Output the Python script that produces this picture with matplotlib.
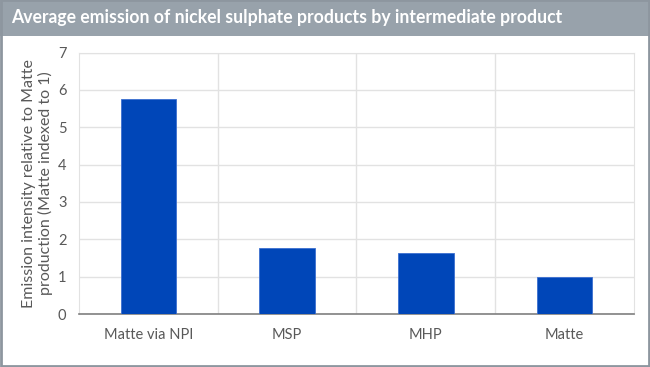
import matplotlib.pyplot as plt
from matplotlib.patches import Rectangle

categories = ["Matte via NPI", "MSP", "MHP", "Matte"]
values = [5.75, 1.78, 1.63, 1.0]
y_ticks = [0, 1, 2, 3, 4, 5, 6, 7]

title = "Average emission of nickel sulphate products by intermediate product"
y_label = "Emission intensity relative to Matte\nproduction (Matte indexed to 1)"

plt.rcParams['font.family'] = ['Lato', 'DejaVu Sans']

fig = plt.figure(figsize=(6.5, 3.67), dpi=100)

# header band and frame
fig.patches.append(Rectangle((0, 1 - 36 / 367), 1, 36 / 367, transform=fig.transFigure,
                             facecolor="#98a2ab", edgecolor="none", zorder=0))
fig.patches.append(Rectangle((0.0015, 0.003), 0.997, 0.997, transform=fig.transFigure,
                             facecolor="none", edgecolor="#8d969f", linewidth=2, zorder=1))
fig.text(0.017, 1 - 18 / 367, title, color="white", fontsize=12.7, fontweight="bold",
         va="center", ha="left")

ax = fig.add_axes([79 / 650, 53 / 367, 555 / 650, 261.5 / 367])
x = range(len(categories))
ax.bar(x, values, width=0.4, color="#0046b8", edgecolor="#3c6fd0", linewidth=0.6, zorder=3)

ax.set_xlim(-0.5, len(categories) - 0.5)
ax.set_ylim(0, 7)
ax.set_yticks(y_ticks)
ax.set_xticks(list(x))
ax.set_xticklabels(categories)
ax.set_xticks([0.5, 1.5, 2.5], minor=True)
ax.grid(axis="y", which="major", color="#e2e2e2", linewidth=1, zorder=0)
ax.grid(axis="x", which="minor", color="#e2e2e2", linewidth=1, zorder=0)
ax.tick_params(axis="both", which="both", length=0, colors="#595959", labelsize=10.5)
ax.tick_params(axis="x", pad=10)
ax.tick_params(axis="y", pad=9)

for side in ["left", "top", "right"]:
    ax.spines[side].set_color("#e2e2e2")
ax.spines["bottom"].set_color("#7f7f7f")
ax.spines["bottom"].set_linewidth(1.2)

ax.set_ylabel(y_label, color="#595959", fontsize=11.5, linespacing=1.15)
ax.yaxis.set_label_coords(-0.047, 0.5)

fig.savefig("out.png", dpi=100)
